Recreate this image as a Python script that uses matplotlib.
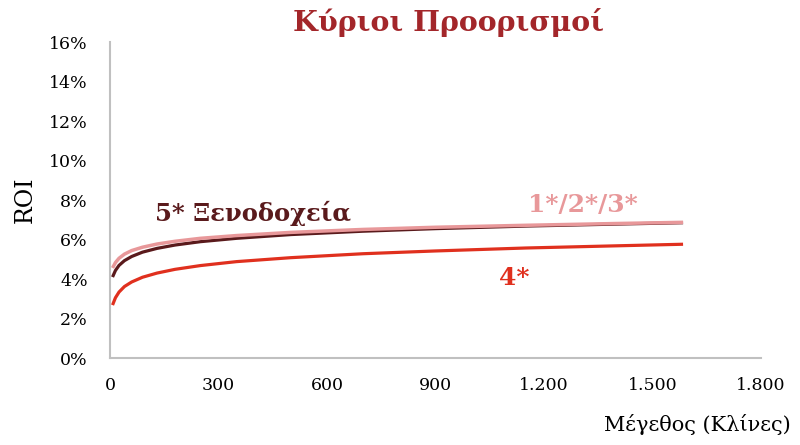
import matplotlib
matplotlib.use("Agg")
import matplotlib.pyplot as plt
from matplotlib.ticker import FuncFormatter

# Hotel size (beds) and estimated ROI (%) per hotel category
beds = [7, 15, 25, 40, 60, 90, 130, 180, 250, 350, 500, 700, 900, 1150, 1400, 1585]
roi_5star = [4.10, 4.43, 4.69, 4.93, 5.14, 5.36, 5.55, 5.72, 5.89, 6.06, 6.25, 6.42, 6.55, 6.68, 6.78, 6.85]
roi_123star = [4.56, 4.83, 5.05, 5.26, 5.44, 5.61, 5.77, 5.91, 6.06, 6.20, 6.36, 6.51, 6.62, 6.72, 6.81, 6.87]
roi_4star = [2.68, 3.05, 3.34, 3.62, 3.85, 4.09, 4.30, 4.49, 4.68, 4.88, 5.08, 5.28, 5.42, 5.57, 5.68, 5.76]

x_ticks = [0, 300, 600, 900, 1200, 1500, 1800]
y_ticks = [0, 2, 4, 6, 8, 10, 12, 14, 16]

title = "Κύριοι Προορισμοί"
x_label = "Μέγεθος (Κλίνες)"
y_label = "ROI"
label_5 = "5* Ξενοδοχεία"
label_123 = "1*/2*/3*"
label_4 = "4*"

serif = "DejaVu Serif"
c_dark = "#5a1a1c"
c_pink = "#e8989a"
c_red = "#e0301e"
c_title = "#a3262a"

fig = plt.figure(figsize=(8, 4.45), dpi=100)
ax = fig.add_axes([0.1375, 0.1955, 0.8135, 0.7101])

ax.plot(beds, roi_5star, color=c_dark, lw=2.3, solid_capstyle="butt")
ax.plot(beds, roi_123star, color=c_pink, lw=2.5, solid_capstyle="butt")
ax.plot(beds, roi_4star, color=c_red, lw=2.3, solid_capstyle="butt")

ax.set_xlim(0, 1800)
ax.set_ylim(0, 16)
ax.set_xticks(x_ticks)
ax.set_yticks(y_ticks)
ax.xaxis.set_major_formatter(FuncFormatter(lambda v, p: f"{int(v):,}".replace(",", ".")))
ax.yaxis.set_major_formatter(FuncFormatter(lambda v, p: f"{int(v)}%"))
ax.tick_params(axis="both", length=0, labelsize=12.5, colors="black")
ax.tick_params(axis="y", pad=16)
ax.tick_params(axis="x", pad=14)
for lab in ax.get_xticklabels() + ax.get_yticklabels():
    lab.set_family(serif)

for side in ("top", "right"):
    ax.spines[side].set_visible(False)
for side in ("left", "bottom"):
    ax.spines[side].set_color("#c0c0c0")
    ax.spines[side].set_linewidth(1.5)

ax.text(124, 7.34, label_5, color=c_dark, fontsize=17.5, fontweight="bold",
        family=serif, ha="left", va="center")
ax.text(1308, 7.75, label_123, color=c_pink, fontsize=18, fontweight="bold",
        family=serif, ha="center", va="center")
ax.text(1117, 4.05, label_4, color=c_red, fontsize=18, fontweight="bold",
        family=serif, ha="center", va="center")

fig.text(0.56, 0.95, title, color=c_title, fontsize=20.5, fontweight="bold",
         family=serif, ha="center", va="center")
fig.text(0.988, 0.045, x_label, fontsize=15, family=serif, ha="right", va="center")
fig.text(0.032, 0.55, y_label, fontsize=17, family=serif, rotation=90,
         ha="center", va="center")

fig.savefig("out.png", dpi=100)
